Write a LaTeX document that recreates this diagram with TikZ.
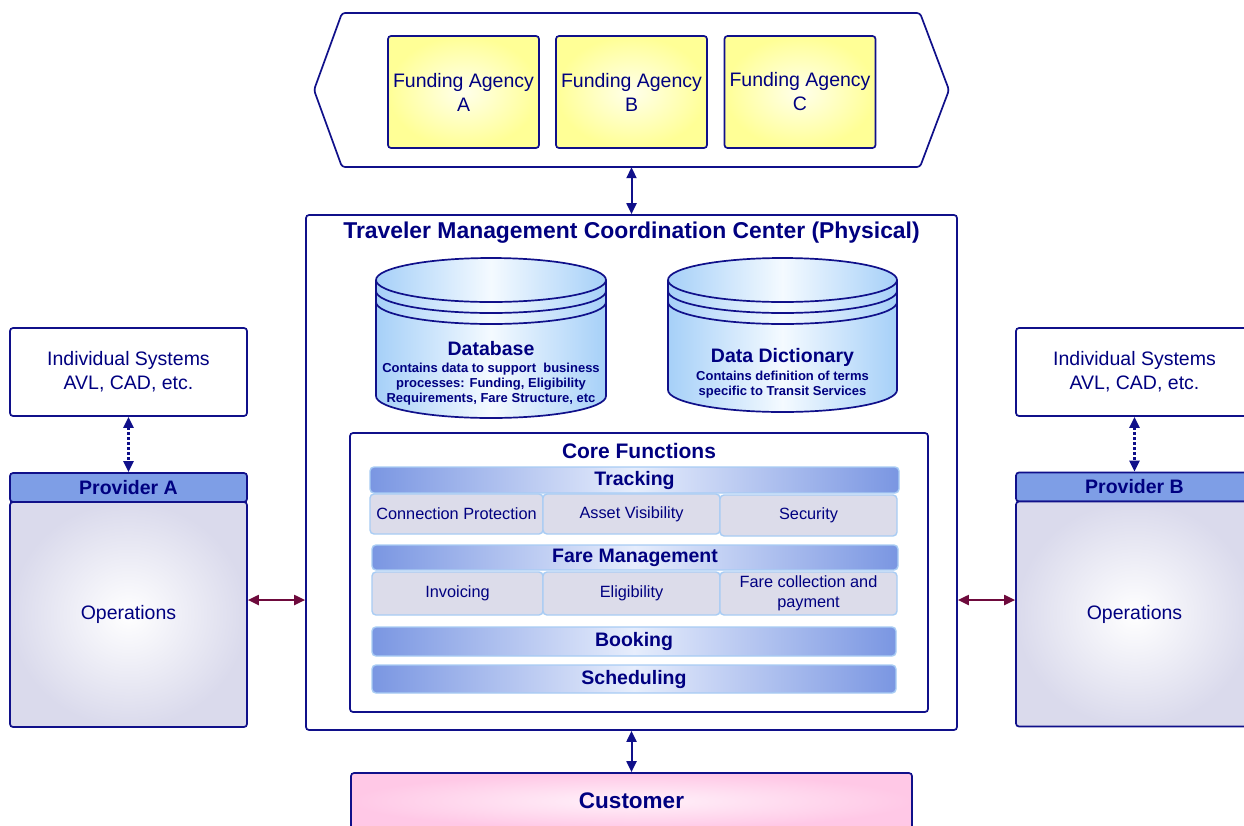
\documentclass[tikz,border=0pt]{standalone}
\usepackage{fontspec}
\setmainfont{Liberation Sans}
\usetikzlibrary{arrows.meta,calc}
\definecolor{navy}{RGB}{0,0,128}
\definecolor{lineblue}{RGB}{16,16,138}
\definecolor{maroonarr}{RGB}{110,10,60}
\definecolor{yellowin}{RGB}{255,255,235}
\definecolor{yellowout}{RGB}{255,255,150}
\definecolor{barend}{RGB}{122,150,226}
\definecolor{barmid}{RGB}{230,237,252}
\definecolor{barline}{RGB}{168,204,244}
\definecolor{cellfill}{RGB}{220,220,234}
\definecolor{provfill}{RGB}{126,158,230}
\definecolor{opsout}{RGB}{218,218,236}
\definecolor{cylend}{RGB}{166,208,248}
\definecolor{cylmid}{RGB}{244,250,255}
\definecolor{custin}{RGB}{255,242,250}
\definecolor{custout}{RGB}{255,200,230}
\tikzset{
  box/.style={draw=lineblue, line width=1.7pt, rounded corners=3pt, inner sep=0pt, text=navy, align=center},
  fund/.style={box, shading=radial, inner color=yellowin, outer color=yellowout,
    minimum width=151pt, minimum height=112pt, font=\fontsize{19.5}{24}\selectfont},
  bar/.style={draw=barline, line width=1.4pt, rounded corners=4pt, left color=barend, right color=barend,
    middle color=barmid, text=navy, inner sep=0pt, font=\bfseries\fontsize{19.5}{22}\selectfont},
  cell/.style={draw=barline, line width=1.4pt, rounded corners=4pt, fill=cellfill, text=navy,
    inner sep=0pt, align=center, font=\fontsize{16.3}{20}\selectfont},
  indsys/.style={box, fill=white, minimum width=237pt, minimum height=88pt, font=\fontsize{19.5}{24}\selectfont},
  prov/.style={box, fill=provfill, minimum width=237pt, minimum height=29pt, font=\bfseries\fontsize{19.5}{22}\selectfont},
  ops/.style={box, shading=radial, inner color=white, outer color=opsout, minimum width=237pt, minimum height=225pt,
    font=\fontsize{19.5}{24}\selectfont},
  lbl/.style={text=navy, inner sep=0pt, align=center},
  bidir/.style={draw=lineblue, line width=2pt, {Triangle[length=11pt,width=10pt]}-{Triangle[length=11pt,width=10pt]}},
  dashbidir/.style={bidir, line width=2.4pt, dash pattern=on 3pt off 2pt},
  maroonbidir/.style={draw=maroonarr, line width=2pt, {Triangle[length=11pt,width=10pt]}-{Triangle[length=11pt,width=10pt]}},
  cylfill/.style={left color=cylend, right color=cylend, middle color=cylmid},
  cylline/.style={draw=lineblue, line width=1.7pt},
}
\begin{document}
\begin{tikzpicture}[x=1pt,y=-1pt]
\useasboundingbox (0,0) rectangle (1244,825);
\clip (0,0) rectangle (1244,825);
\fill[white] (0,0) rectangle (1244,825);

% Funding hexagon
\node[minimum width=635pt, minimum height=154pt, inner sep=0pt] (hex) at (631.5,90) {};
\draw[draw=lineblue, line width=1.7pt, rounded corners=3pt, fill=white]
  (314,90) -- (342,13) -- (920,13) -- (949,90) -- (920,167) -- (342,167) -- cycle;
\node[fund] (fa) at (463.5,92) {Funding Agency\\A};
\node[fund] (fb) at (631.5,92) {Funding Agency\\B};
\node[fund] (fc) at (800,92) {Funding Agency\\C};

% TMCC
\node[box, fill=white, minimum width=651pt, minimum height=515pt] (tmcc) at (631.5,472.5) {};
\node[lbl, font=\bfseries\fontsize{22.9}{26}\selectfont] (tmcctitle) at (631.5,233) {Traveler Management Coordination Center (Physical)};

% Database cylinder
\path[cylfill] (376,280) -- (376,396) arc[start angle=180,end angle=360,x radius=115pt,y radius=22pt]
  -- (606,280) arc[start angle=0,end angle=180,x radius=115pt,y radius=22pt] -- cycle;
\draw[cylline] (376,280) -- (376,396) arc[start angle=180,end angle=360,x radius=115pt,y radius=22pt] -- (606,280);
\draw[cylline] (491,280) ellipse[x radius=115pt,y radius=22pt];
\draw[cylline] (376,291) arc[start angle=180,end angle=360,x radius=115pt,y radius=22pt];
\draw[cylline] (376,302) arc[start angle=180,end angle=360,x radius=115pt,y radius=22pt];
\node[lbl, font=\bfseries\fontsize{19.5}{22}\selectfont] (dbt) at (491,349) {Database};
\node[lbl, font=\bfseries\fontsize{13}{15}\selectfont] (dbs) at (491,384) {Contains data to support\ \ business\\processes: Funding, Eligibility\\Requirements, Fare Structure, etc};

% Data dictionary cylinder
\path[cylfill] (668,280) -- (668,390) arc[start angle=180,end angle=360,x radius=114.5pt,y radius=22pt]
  -- (897,280) arc[start angle=0,end angle=180,x radius=114.5pt,y radius=22pt] -- cycle;
\draw[cylline] (668,280) -- (668,390) arc[start angle=180,end angle=360,x radius=114.5pt,y radius=22pt] -- (897,280);
\draw[cylline] (782.5,280) ellipse[x radius=114.5pt,y radius=22pt];
\draw[cylline] (668,291) arc[start angle=180,end angle=360,x radius=114.5pt,y radius=22pt];
\draw[cylline] (668,302) arc[start angle=180,end angle=360,x radius=114.5pt,y radius=22pt];
\node[lbl, font=\bfseries\fontsize{19.5}{22}\selectfont] (ddt) at (782.5,357) {Data Dictionary};
\node[lbl, font=\bfseries\fontsize{13}{15}\selectfont] (dds) at (782.5,384.5) {Contains definition of terms\\specific to Transit Services};

% Core functions
\node[box, fill=white, minimum width=578pt, minimum height=279pt] (core) at (639,572.5) {};
\node[lbl, font=\bfseries\fontsize{21}{24}\selectfont] (coret) at (639,451) {Core Functions};
\node[bar, minimum width=529pt, minimum height=26pt] (track) at (634.5,480) {Tracking};
\node[cell, minimum width=173pt, minimum height=40pt] (c1) at (456.5,514) {Connection Protection};
\node[cell, minimum width=177pt, minimum height=40pt] (c2) at (631.5,514) {Asset Visibility};
\node[cell, minimum width=177pt, minimum height=41pt] (c3) at (808.5,515.5) {Security};
\node[bar, minimum width=526pt, minimum height=25pt] (fare) at (635,557.5) {Fare Management};
\node[cell, minimum width=171pt, minimum height=43pt] (f1) at (457.5,593.5) {Invoicing};
\node[cell, minimum width=177pt, minimum height=43pt] (f2) at (631.5,593.5) {Eligibility};
\node[cell, minimum width=177pt, minimum height=43pt] (f3) at (808.5,593.5) {Fare collection and\\payment};
\node[bar, minimum width=524pt, minimum height=29pt] (book) at (634,641.5) {Booking};
\node[bar, minimum width=524pt, minimum height=28pt] (sched) at (634,679) {Scheduling};

% Left provider
\node[indsys] (indA) at (128.5,372) {Individual Systems\\AVL, CAD, etc.};
\node[prov] (provA) at (128.5,487.5) {Provider A};
\node[ops] (opsA) at (128.5,614.5) {Operations};

% Right provider
\node[indsys] (indB) at (1134.5,372) {Individual Systems\\AVL, CAD, etc.};
\node[prov] (provB) at (1134.5,487) {Provider B};
\node[ops] (opsB) at (1134.5,614) {Operations};

% Customer
\node[box, shading=radial, inner color=custin, outer color=custout, minimum width=561pt, minimum height=56pt] (cust) at (631.5,801) {};
\node[lbl, font=\bfseries\fontsize{22.5}{26}\selectfont] (custt) at (631.5,801) {Customer};

% Connectors
\coordinate (arry) at (0,600);
\draw[bidir] (hex.south) -- (tmcc.north);
\draw[bidir] (tmcc.south) -- (cust.north);
\draw[dashbidir] (indA.south) -- (provA.north);
\draw[dashbidir] (indB.south) -- (provB.north);
\draw[maroonbidir] (opsA.east |- arry) -- (tmcc.west |- arry);
\draw[maroonbidir] (tmcc.east |- arry) -- (opsB.west |- arry);
\end{tikzpicture}
\end{document}
